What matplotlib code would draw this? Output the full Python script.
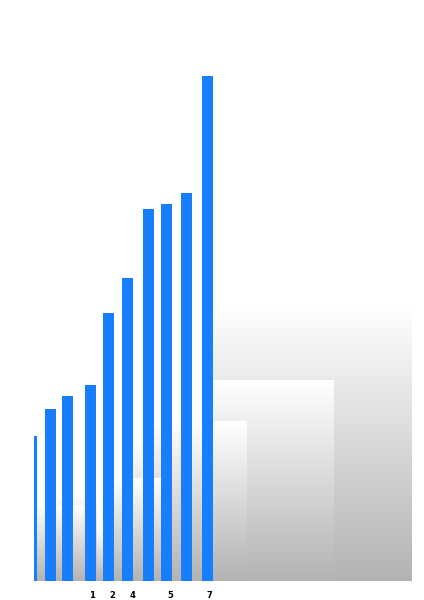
import numpy as np
import matplotlib
matplotlib.use("Agg")
import matplotlib.pyplot as plt
from matplotlib.colors import LinearSegmentedColormap

# Main series
bar_x = [-0.13, 0.9, 1.8, 3.0, 3.95, 4.95, 6.05, 7.05, 8.1, 9.2]
bar_values = [28.7, 34.1, 36.6, 38.8, 53.1, 60.0, 73.7, 74.7, 76.8, 100.0]

# Background shaded bands (drawn in this order)
band_left = [9.05, 9.5, 5.25, 6.3, 3.3, 4.2, 1.2, 0.0]
band_right = [20.5, 15.9, 8.0, 11.25, 4.3, 6.9, 3.3, 2.7]
band_values = [54.7, 39.8, 27.7, 31.5, 10.1, 20.4, 17.2, 15.0]

# Tick labels under selected bars
tick_pos = [3.1, 4.15, 5.2, 7.25, 9.3]
tick_labels = ["1", "2", "4", "5", "7"]

fig = plt.figure(figsize=(4.24, 6.0), dpi=100)
ax = fig.add_axes([34 / 424, 19 / 600, 377 / 424, 530 / 600])

shade = LinearSegmentedColormap.from_list("shade", ["#b3b3b3", "#ffffff"])
grad = np.linspace(0, 1, 256).reshape(-1, 1)
for x0, x1, h in zip(band_left, band_right, band_values):
    ax.imshow(grad, cmap=shade, extent=(x0, x1, 0, h), origin="lower",
              aspect="auto", zorder=1, interpolation="bicubic")

ax.bar(bar_x, bar_values, width=0.58, color="#177ffe", zorder=3)

ax.set_xlim(0, 20)
ax.set_ylim(0, 105)
for s in ax.spines.values():
    s.set_visible(False)
ax.set_yticks([])
ax.set_xticks(tick_pos)
ax.set_xticklabels(tick_labels, fontsize=6, fontweight="bold")
ax.tick_params(axis="x", length=0, pad=7)

fig.savefig("out.png", dpi=100)
